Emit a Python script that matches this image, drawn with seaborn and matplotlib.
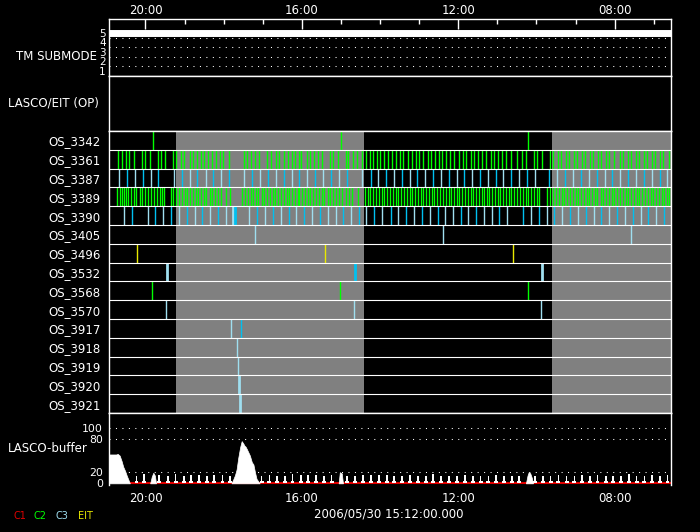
import numpy as np
import pandas as pd
import matplotlib
matplotlib.use("Agg")
import matplotlib.pyplot as plt
import seaborn as sns

# ---------------- data (times in decimal hours, axis runs backwards) ----------------
T_LEFT, T_RIGHT = 20.946, 6.56
MAJOR_HOURS = [20, 16, 12, 8]
MAJOR_LABELS = ["20:00", "16:00", "12:00", "08:00"]
MINOR_HOURS = list(range(7, 21))

TM_TIMES = [20.946, 6.56]
TM_MODE = [5, 5]
TM_LEVELS = [1, 2, 3, 4, 5]

ROW_NAMES = ["OS_3342", "OS_3361", "OS_3387", "OS_3389", "OS_3390", "OS_3405",
             "OS_3496", "OS_3532", "OS_3568", "OS_3570", "OS_3917", "OS_3918",
             "OS_3919", "OS_3920", "OS_3921"]

GRAY_START = [19.22, 9.60]
GRAY_END = [14.41, 6.56]

os3342_c2 = [19.82, 15.00, 10.21]
os3361_c2 = [20.70, 20.59, 20.50, 20.41, 20.29, 20.08, 20.01, 19.88, 19.67, 19.60, 19.49,
             19.29, 19.22, 19.08, 19.01, 18.87, 18.79, 18.67, 18.59, 18.50, 18.39, 18.30,
             18.20, 18.09, 18.01, 17.87, 17.47, 17.40, 17.30, 17.19, 17.10, 16.88, 16.80,
             16.67, 16.59, 16.46, 16.36, 16.25, 16.18, 16.08, 16.02, 15.88, 15.79, 15.68,
             15.60, 15.48, 15.28, 15.20, 15.08, 14.88, 14.81, 14.69, 14.59, 14.47, 14.37,
             14.27, 14.19, 14.07, 14.00, 13.89, 13.79, 13.70, 13.60, 13.48, 13.41, 13.29,
             13.19, 13.09, 13.00, 12.90, 12.78, 12.69, 12.60, 12.50, 12.41, 12.31, 12.21,
             12.10, 11.99, 11.89, 11.80, 11.68, 11.59, 11.49, 11.39, 11.28, 11.16, 11.08,
             10.99, 10.87, 10.79, 10.66, 10.49, 10.38, 10.28, 10.07, 9.99, 9.87, 9.66,
             9.57, 9.46, 9.37, 9.25, 9.17, 9.05, 8.96, 8.84, 8.76, 8.64, 8.55, 8.43, 8.34,
             8.23, 8.14, 8.01, 7.87, 7.78, 7.67, 7.58, 7.46, 7.38, 7.26, 7.17, 7.05, 6.97,
             6.85, 6.77, 6.62]
os3387_c3 = [20.67, 20.26, 19.85, 19.26, 18.85, 18.46, 18.06, 17.47, 17.06, 16.66, 16.25,
             15.86, 15.45, 15.06, 14.45, 14.06, 13.65, 13.24, 12.86, 12.45, 12.04, 11.66,
             11.25, 10.85, 10.46, 10.05, 9.47, 9.06, 8.65, 8.26, 7.86, 7.45, 7.05, 6.65]
os3387_c3b = [20.47, 20.06, 19.67, 19.06, 18.67, 18.27, 17.86, 17.27, 16.86, 16.45, 16.07,
              15.66, 15.26, 14.85, 14.24, 13.86, 13.45, 13.06, 12.65, 12.25, 11.86, 11.45,
              11.04, 10.66, 10.25, 9.67, 9.26, 8.85, 8.46, 8.06, 7.65, 7.25, 6.85]
os3389_c2 = [20.72, 20.65, 20.59, 20.54, 20.49, 20.44, 20.36, 20.30, 20.24, 20.15, 20.08,
             20.01, 19.93, 19.86, 19.79, 19.71, 19.64, 19.58, 19.52, 19.36, 19.30, 19.23,
             19.14, 19.07, 19.00, 18.93, 18.85, 18.79, 18.72, 18.65, 18.57, 18.51, 18.44,
             18.36, 18.29, 18.21, 18.14, 18.07, 17.95, 17.84, 17.52, 17.45, 17.37, 17.31,
             17.24, 17.17, 17.11, 17.03, 16.96, 16.89, 16.82, 16.75, 16.68, 16.61, 16.53,
             16.46, 16.39, 16.32, 16.25, 16.17, 16.11, 16.07, 15.99, 15.92, 15.85, 15.78,
             15.71, 15.64, 15.56, 15.49, 15.43, 15.34, 15.27, 15.20, 15.12, 15.04, 14.97,
             14.88, 14.79, 14.71, 14.56, 14.39, 14.32, 14.25, 14.17, 14.10, 14.03, 13.96,
             13.89, 13.82, 13.75, 13.68, 13.60, 13.53, 13.47, 13.39, 13.32, 13.24, 13.18,
             13.11, 13.04, 12.96, 12.89, 12.83, 12.75, 12.68, 12.61, 12.54, 12.47, 12.40,
             12.32, 12.25, 12.19, 12.11, 12.04, 11.97, 11.90, 11.83, 11.76, 11.68, 11.62,
             11.55, 11.47, 11.40, 11.33, 11.26, 11.21, 11.13, 11.06, 10.99, 10.93, 10.85,
             10.78, 10.70, 10.64, 10.57, 10.49, 10.42, 10.35, 10.28, 10.21, 10.14, 10.06,
             9.99, 9.93, 9.74, 9.65, 9.57, 9.50, 9.42, 9.36, 9.29, 9.21, 9.14, 9.07, 9.00,
             8.93, 8.86, 8.79, 8.72, 8.65, 8.57, 8.50, 8.44, 8.36, 8.29, 8.22, 8.15, 8.08,
             8.01, 7.93, 7.86, 7.80, 7.72, 7.65, 7.58, 7.51, 7.44, 7.37, 7.29, 7.23, 7.16,
             7.08, 7.01, 6.94, 6.87, 6.80, 6.73, 6.65, 6.60]
os3390_c3 = [20.54, 19.94, 19.54, 19.14, 18.73, 18.34, 17.93, 17.35, 16.94, 16.53, 16.14,
             15.73, 15.33, 15.14, 14.74, 14.35, 13.94, 13.53, 13.13, 12.73, 12.33, 12.14,
             11.74, 11.34, 11.13, 10.75, 10.13, 9.74, 9.34, 8.93, 8.54, 8.14, 7.73, 7.34, 6.94]
os3390_c3b = [20.34, 19.75, 19.34, 18.93, 18.55, 18.14, 17.14, 16.73, 16.34, 15.94, 15.54,
              14.94, 14.53, 14.15, 13.73, 13.34, 12.94, 12.53, 11.94, 11.54, 10.95, 10.34,
              9.93, 9.55, 9.14, 8.74, 8.34, 7.93, 7.53, 7.14, 6.73]
os3390_c3_long = [17.75]
os3390_c3b_long = [17.71]
os3405_c3 = [17.19, 12.39, 7.58]
os3496_eit = [20.21, 15.40, 10.60]
os3532_c3_long = [19.44, 9.86]
os3532_c3b_long = [14.64]
os3568_c2 = [19.83, 15.02, 10.22]
os3570_c3 = [19.47, 14.67, 9.89]
os3917_c3 = [17.81]
os3917_c3b = [17.55]
os3918_c3 = [17.65]
os3919_c3 = [17.63]
os3920_c3_long = [17.60]
os3921_c3_long = [17.59]

BUF_TICKS = [0, 20, 80, 100]
BUF_GUIDES = [20, 80, 100]
buf_start_t = [20.946, 20.75, 20.71, 20.66, 20.61, 20.57, 20.52, 20.48, 20.44, 20.40]
buf_start_v = [52, 52, 53, 50, 40, 30, 22, 14, 7, 0]
buf_bump1_t = [19.88, 19.84, 19.80, 19.76, 19.73]
buf_bump1_v = [0, 12, 19, 14, 0]
buf_peak_t = [17.80, 17.75, 17.71, 17.67, 17.63, 17.58, 17.54, 17.50, 17.47, 17.44, 17.41,
              17.37, 17.33, 17.28, 17.24, 17.20, 17.16, 17.11, 17.08]
buf_peak_v = [0, 8, 15, 25, 45, 65, 76, 72, 68, 66, 62, 56, 50, 38, 34, 20, 8, 3, 0]
buf_bump2_t = [15.06, 15.03, 14.98, 14.95]
buf_bump2_v = [0, 20, 18, 0]
buf_bump3_t = [10.27, 10.23, 10.20, 10.16, 10.12, 10.09]
buf_bump3_v = [0, 14, 20, 18, 10, 0]
spike_t = [20.23, 20.03, 19.65, 19.43, 19.23, 19.02, 18.84, 18.63, 18.43, 18.24, 18.03,
           17.84, 17.03, 16.83, 16.63, 16.43, 16.24, 16.03, 15.84, 15.64, 15.43, 15.24,
           14.84, 14.64, 14.43, 14.23, 14.03, 13.83, 13.64, 13.43, 13.24, 13.04, 12.83,
           12.64, 12.44, 12.23, 12.03, 11.83, 11.63, 11.43, 11.23, 11.04, 10.83, 10.63,
           10.44, 10.04, 9.83, 9.64, 9.44, 9.23, 9.03, 8.83, 8.63, 8.44, 8.23, 8.04, 7.84,
           7.63, 7.44, 7.24, 7.04, 6.84, 6.65]
spike_v = [14, 17, 15, 14, 17, 14, 15, 15, 14, 15, 15, 14, 14, 15, 14, 14, 17, 15, 15,
           15, 14, 15, 14, 14, 15, 15, 15, 15, 14, 14, 15, 14, 14, 17, 14, 14, 14, 15,
           14, 14, 14, 15, 14, 14, 14, 14, 14, 14, 15, 14, 14, 15, 14, 15, 14, 14, 14,
           17, 14, 14, 15, 14, 15]
c1_t = [20.40, 6.56]
c1_v = [0, 0]

LEGEND_NAMES = ["C1", "C2", "C3", "EIT"]
TIMESTAMP = "2006/05/30 15:12:00.000"

# ---------------- style ----------------
COL = {"C1": "#e00000", "C2": "#00ff00", "C3": "#9fdff0", "C3b": "#00c0f0", "EIT": "#e8e800"}
GRAY = "#808080"
sns.set_style("dark", {"axes.facecolor": "black", "figure.facecolor": "black",
                       "axes.edgecolor": "white", "text.color": "white",
                       "xtick.color": "white", "ytick.color": "white", "axes.grid": False})
plt.rcParams["font.family"] = ["DejaVu Sans"]
FS = 8.5

fig = plt.figure(figsize=(7, 5.32), dpi=100, facecolor="black")
L, W = 108.5 / 700, 562.5 / 700


def box(top_px, bot_px):
    return [L, 1 - bot_px / 532, W, (bot_px - top_px) / 532]


ax_tm = fig.add_axes(box(19.3, 76))
ax_op = fig.add_axes(box(76, 131))
ax_rows = fig.add_axes(box(131, 413))
ax_buf = fig.add_axes(box(413, 485))

for ax in (ax_tm, ax_op, ax_rows, ax_buf):
    ax.set_facecolor("black")
    ax.set_xlim(T_LEFT, T_RIGHT)
    for s in ax.spines.values():
        s.set_color("white")
        s.set_linewidth(1.0)
    ax.tick_params(axis="both", colors="white", labelsize=FS)

# ---- TM submode panel ----
sns.lineplot(x=TM_TIMES, y=TM_MODE, color="white", lw=5, ax=ax_tm, estimator=None, sort=False)
for lv in TM_LEVELS[:-1]:
    ax_tm.axhline(lv + 0.5, color="white", lw=0.75, ls=(0, (1, 5.2)))
ax_tm.set_ylim(0.47, 6.44)
ax_tm.set_yticks(TM_LEVELS)
ax_tm.set_yticklabels([str(v) for v in TM_LEVELS], fontsize=7.5)
ax_tm.tick_params(axis="y", length=0, pad=2)
ax_tm.xaxis.set_ticks_position("top")
ax_tm.set_xticks(MAJOR_HOURS)
ax_tm.set_xticklabels(MAJOR_LABELS)
ax_tm.set_xticks(MINOR_HOURS, minor=True)
ax_tm.tick_params(axis="x", which="major", direction="in", length=7.2, width=1, pad=2,
                  top=True, bottom=False, labeltop=True, labelbottom=False)
ax_tm.tick_params(axis="x", which="minor", direction="in", length=3.6, width=1,
                  top=True, bottom=False)
ax_tm.set_xlabel("")
ax_tm.set_ylabel("")

# ---- OP panel ----
ax_op.set_xticks([])
ax_op.set_yticks([])

# ---- rows panel ----
rows = []
series = [
    (0, os3342_c2, "C2", False), (1, os3361_c2, "C2", False),
    (2, os3387_c3, "C3", False), (2, os3387_c3b, "C3b", False),
    (3, os3389_c2, "C2", False), (4, os3390_c3, "C3", False),
    (4, os3390_c3b, "C3b", False), (4, os3390_c3_long, "C3", True),
    (4, os3390_c3b_long, "C3b", True), (5, os3405_c3, "C3", False),
    (6, os3496_eit, "EIT", False), (7, os3532_c3_long, "C3", True),
    (7, os3532_c3b_long, "C3b", True), (8, os3568_c2, "C2", False),
    (9, os3570_c3, "C3", False), (10, os3917_c3, "C3", False),
    (10, os3917_c3b, "C3b", False), (11, os3918_c3, "C3", False),
    (12, os3919_c3, "C3", False), (13, os3920_c3_long, "C3", True),
    (14, os3921_c3_long, "C3", True),
]
for r, ts, kind, long in series:
    for t in ts:
        rows.append({"row": r, "time": t, "kind": kind, "long": long})
ev = pd.DataFrame(rows)

for g0, g1 in zip(GRAY_START, GRAY_END):
    ax_rows.axvspan(g0, g1, color=GRAY, lw=0, zorder=0)
for (kind, long), sub in ev.groupby(["kind", "long"]):
    ax_rows.vlines(sub["time"], sub["row"], sub["row"] + 1, colors=COL[kind],
                   lw=2.0 if long else 1.0, zorder=2)
hl = ax_rows.hlines(np.arange(1, len(ROW_NAMES)), T_LEFT, T_RIGHT, colors="white", lw=0.8,
                    zorder=3)
hl.set_snap(True)
ax_rows.set_ylim(len(ROW_NAMES), 0)
ax_rows.set_yticks(np.arange(len(ROW_NAMES)) + 0.5)
ax_rows.set_yticklabels(ROW_NAMES)
ax_rows.tick_params(axis="y", length=0, pad=5.5)
ax_rows.set_xticks([])
ax_rows.set_xlabel("")
ax_rows.set_ylabel("")

# ---- buffer panel ----
for y in BUF_GUIDES:
    ax_buf.axhline(y, color="white", lw=0.75, ls=(0, (1, 5.2)), zorder=1)
sns.lineplot(x=c1_t, y=c1_v, color=COL["C1"], lw=1.5, ax=ax_buf, estimator=None,
             sort=False, zorder=2)
for tt, vv in [(buf_start_t, buf_start_v), (buf_bump1_t, buf_bump1_v),
               (buf_peak_t, buf_peak_v), (buf_bump2_t, buf_bump2_v),
               (buf_bump3_t, buf_bump3_v)]:
    ax_buf.fill_between(tt, 0, vv, color="white", lw=0.5, zorder=3)
ax_buf.bar(spike_t, spike_v, width=0.045, color="white", lw=0, zorder=3)
ax_buf.bar(spike_t, [5] * len(spike_t), width=0.1, color="white", lw=0, zorder=3)
ax_buf.set_ylim(-3, 126.7)
ax_buf.set_yticks(BUF_TICKS)
ax_buf.set_yticklabels([str(v) for v in BUF_TICKS], fontsize=7.8)
ax_buf.tick_params(axis="y", length=0, pad=4)
ax_buf.set_xticks(MAJOR_HOURS)
ax_buf.set_xticklabels(MAJOR_LABELS)
ax_buf.tick_params(axis="x", length=0, pad=5)
ax_buf.spines["bottom"].set_visible(False)
ax_buf.set_xlabel("")
ax_buf.set_ylabel("")

# ---- texts ----
fig.text(57 / 700, 1 - 57 / 532, "TM SUBMODE", ha="center", va="center", fontsize=FS, color="white")
fig.text(8 / 700, 1 - 103 / 532, "LASCO/EIT (OP)", ha="left", va="center", fontsize=FS, color="white")
fig.text(8 / 700, 1 - 449 / 532, "LASCO-buffer", ha="left", va="center", fontsize=FS, color="white")
fig.text(389 / 700, 1 - 514 / 532, TIMESTAMP, ha="center", va="center", fontsize=FS, color="white")
leg_x = [13, 34, 56, 78]
leg_c = [COL["C1"], COL["C2"], COL["C3"], COL["EIT"]]
for name, x, c in zip(LEGEND_NAMES, leg_x, leg_c):
    fig.text(x / 700, 1 - 516 / 532, name, ha="left", va="center", fontsize=7, color=c)

fig.savefig("out.png", dpi=100, facecolor="black")
